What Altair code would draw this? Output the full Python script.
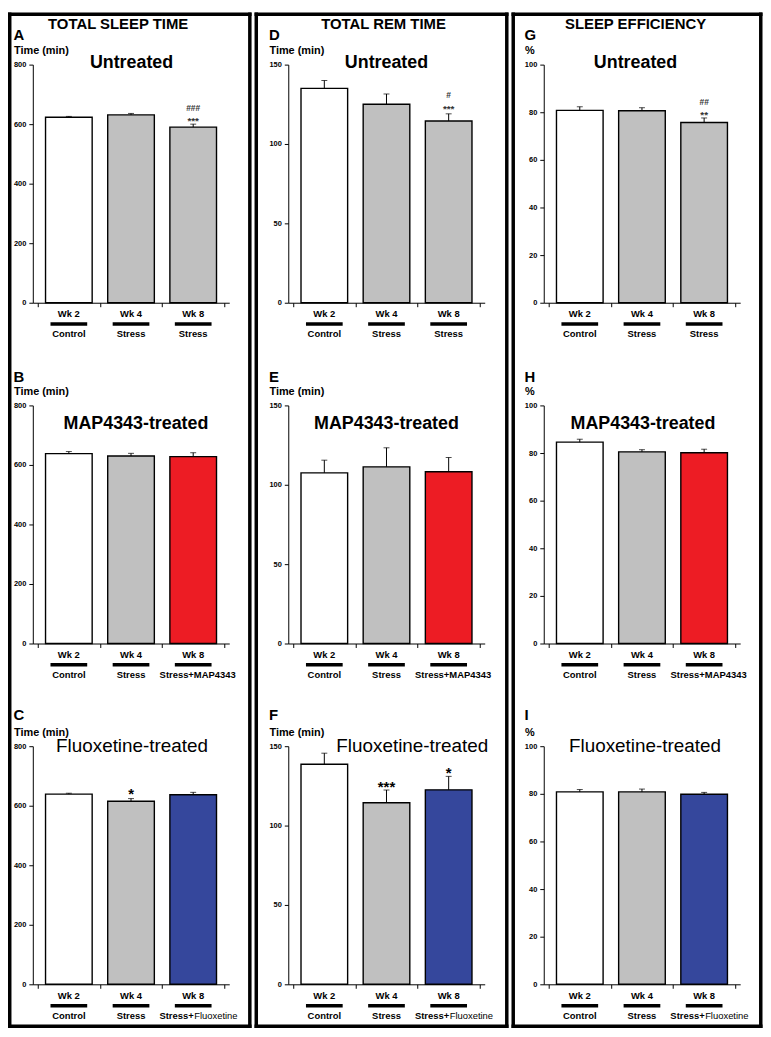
import altair as alt
import pandas as pd

FONT = "Liberation Sans"

# ---------------- data ----------------
weeks = ["Wk 2", "Wk 4", "Wk 8"]
groups_untreated = ["Control", "Stress", "Stress"]
groups_map = ["Control", "Stress", "Stress+MAP4343"]
groups_flx = ["Control", "Stress", "Stress+Fluoxetine"]

fills_untreated = ["#ffffff", "#c0c0c0", "#c0c0c0"]
fills_map = ["#ffffff", "#c0c0c0", "#ed1c24"]
fills_flx = ["#ffffff", "#c0c0c0", "#35479c"]

column_titles = ["TOTAL SLEEP TIME", "TOTAL REM TIME", "SLEEP EFFICIENCY"]
row_titles = ["Untreated", "MAP4343-treated", "Fluoxetine-treated"]
panel_letters = [["A", "D", "G"], ["B", "E", "H"], ["C", "F", "I"]]
y_titles = ["Time (min)", "Time (min)", "%"]
y_max = [800, 150, 100]
y_step = [200, 50, 20]

# Total sleep time (min)
tst_untreated = [623, 631, 590]
tst_untreated_err = [3, 5, 10]
tst_map = [638, 630, 628]
tst_map_err = [7, 9, 13]
tst_flx = [639, 615, 637]
tst_flx_err = [3, 9, 8]

# Total REM time (min)
rem_untreated = [135, 125, 114.5]
rem_untreated_err = [5, 6.5, 4.5]
rem_map = [107.5, 111.3, 108.2]
rem_map_err = [8, 12, 9]
rem_flx = [138.6, 114.4, 122.5]
rem_flx_err = [7, 8, 8.5]

# Sleep efficiency (%)
se_untreated = [80.8, 80.6, 75.7]
se_untreated_err = [1.5, 1.3, 1.9]
se_map = [84.6, 80.5, 80.1]
se_map_err = [1.2, 0.9, 1.5]
se_flx = [80.8, 80.8, 79.8]
se_flx_err = [1.0, 1.2, 0.8]

# significance marks
stars_A = ["", "", "***"]
hashes_A = ["", "", "###"]
stars_D = ["", "", "***"]
hashes_D = ["", "", "#"]
stars_G = ["", "", "**"]
hashes_G = ["", "", "##"]
stars_C = ["", "*", ""]
stars_F = ["", "***", "*"]
no_marks = ["", "", ""]

VALUES = [[tst_untreated, rem_untreated, se_untreated],
          [tst_map, rem_map, se_map],
          [tst_flx, rem_flx, se_flx]]
ERRS = [[tst_untreated_err, rem_untreated_err, se_untreated_err],
        [tst_map_err, rem_map_err, se_map_err],
        [tst_flx_err, rem_flx_err, se_flx_err]]
STARS = [[stars_A, stars_D, stars_G],
         [no_marks, no_marks, no_marks],
         [stars_C, stars_F, no_marks]]
HASHES = [[hashes_A, hashes_D, hashes_G],
          [no_marks, no_marks, no_marks],
          [no_marks, no_marks, no_marks]]
GROUPS = [groups_untreated, groups_map, groups_flx]
FILLS = [fills_untreated, fills_map, fills_flx]

# ---------------- layout / style ----------------
W, H = 198, 240
TITLE_X = [[99.5, 99, 92.5], [104, 99, 100], [100, 125, 102]]
TITLE_Y = [3.5, 23.5, 6]
TITLE_WEIGHT = ["bold", "bold", "normal"]
TITLE_SIZE = [18, 18, 19]
LETTER_Y = [-25, -23.5, -26.5]
COLTITLE_X = [86, 96, 92.5]
BOX_LR = [(-25, 220.5), (-34, 222), (-32.5, 220.5)]
BOX_TB = (-52.5, 971)
BOX_T = 3.5
STAR_STYLE = [  # (size, color, dy per column)
    (10, "#333333", [0, -2, 0]),
    (10, "#333333", [0, 0, 0]),
    (15, "#000000", [0, 2, 0]),
]
HASH_DY = [-13, -16, -13]


def text_layer(txt, x, y, size, weight="bold", align="left", color="black"):
    return alt.Chart(pd.DataFrame({"t": [txt]})).mark_text(
        font=FONT, fontSize=size, fontWeight=weight, align=align,
        baseline="alphabetic", color=color
    ).encode(text="t:N", x=alt.value(x), y=alt.value(y))


def box_edge(x1, x2, y1, y2):
    return alt.Chart(pd.DataFrame({"b": [0]})).mark_rect(color="black").encode(
        x=alt.value(x1), x2=alt.value(x2), y=alt.value(y1), y2=alt.value(y2))


def make_panel(r, c):
    df = pd.DataFrame({
        "week": weeks,
        "group": GROUPS[r],
        "value": VALUES[r][c],
        "err": ERRS[r][c],
        "fill": FILLS[r],
        "star": STARS[r][c],
        "hash": HASHES[r][c],
        "idx": list(range(len(weeks))),
    })
    base = alt.Chart(df).transform_calculate(
        pos="datum.idx + 0.5", top="datum.value + datum.err"
    )
    xenc = alt.X("pos:Q", scale=alt.Scale(domain=[0, 3], nice=False, zero=False),
                 axis=alt.Axis(values=[0, 1, 2, 3], labels=False, title=None, grid=False,
                               tickSize=4, tickColor="black", domainColor="black",
                               tickWidth=1, domainWidth=1))
    yenc = alt.Y("value:Q", scale=alt.Scale(domain=[0, y_max[c]], nice=False),
                 axis=alt.Axis(values=list(range(0, y_max[c] + 1, y_step[c])), title=None,
                               grid=False, tickSize=4, tickColor="black", domainColor="black",
                               tickWidth=1, domainWidth=1, labelFont=FONT,
                               labelFontWeight="bold", labelFontSize=7.5,
                               labelColor="black", labelPadding=3))
    bars = base.mark_bar(width=47, stroke="black", strokeWidth=1.4).encode(
        x=xenc, y=yenc, fill=alt.Fill("fill:N", scale=None))
    err = base.mark_rule(color="black", strokeWidth=1).encode(
        x="pos:Q", y="value:Q", y2="top:Q")
    cap = base.mark_tick(orient="horizontal", size=6, thickness=1, color="black").encode(
        x="pos:Q", y="top:Q")
    ssize, scolor, sdy = STAR_STYLE[r]
    stars = base.transform_filter("datum.star != ''").mark_text(
        font=FONT, fontSize=ssize, fontWeight="bold", color=scolor,
        baseline="alphabetic", dy=sdy[c]
    ).encode(x="pos:Q", y="top:Q", text="star:N")
    hashes = base.transform_filter("datum.hash != ''").mark_text(
        font=FONT, fontSize=8.5, fontWeight="bold", color="#333333",
        baseline="alphabetic", dy=HASH_DY[c]
    ).encode(x="pos:Q", y="top:Q", text="hash:N")

    wk = base.mark_text(font=FONT, fontSize=9.5, fontWeight="bold",
                        baseline="alphabetic").encode(
        x="pos:Q", y=alt.value(H + 14.5), text="week:N")
    underline = base.mark_bar(width=37, color="black").encode(
        x="pos:Q", y=alt.value(H + 19.75), y2=alt.value(H + 23.25))
    grp_simple = base.transform_filter("indexof(datum.group, '+') < 0").mark_text(
        font=FONT, fontSize=9.5, fontWeight="bold", baseline="alphabetic"
    ).encode(x="pos:Q", y=alt.value(H + 34.5), text="group:N")
    layers = [bars, err, cap, stars, hashes, wk, underline, grp_simple]
    if r == 1:
        layers.append(base.transform_filter("indexof(datum.group, '+') >= 0").mark_text(
            font=FONT, fontSize=9.5, fontWeight="bold", baseline="alphabetic", dx=4.5
        ).encode(x="pos:Q", y=alt.value(H + 34.5), text="group:N"))
    if r == 2:
        plus = base.transform_filter("indexof(datum.group, '+') >= 0").transform_calculate(
            gb="split(datum.group, '+')[0] + '+'", gr="split(datum.group, '+')[1]")
        layers.append(plus.mark_text(font=FONT, fontSize=9.5, fontWeight="bold",
                                     baseline="alphabetic", align="right", dx=0.5
                                     ).encode(x="pos:Q", y=alt.value(H + 34.5), text="gb:N"))
        layers.append(plus.mark_text(font=FONT, fontSize=9.5, fontWeight="normal",
                                     baseline="alphabetic", align="left", dx=1
                                     ).encode(x="pos:Q", y=alt.value(H + 34.5), text="gr:N"))

    layers.append(text_layer(panel_letters[r][c], -19.5, LETTER_Y[r], 15))
    layers.append(text_layer(y_titles[c], -19, -10.5, 11))
    layers.append(text_layer(row_titles[r], TITLE_X[r][c], TITLE_Y[r], TITLE_SIZE[r],
                             weight=TITLE_WEIGHT[r], align="center"))
    if r == 0:
        layers.append(text_layer(column_titles[c], COLTITLE_X[c], -36, 15, align="center"))
        L, R = BOX_LR[c]
        T, B = BOX_TB
        layers += [
            box_edge(L, L + BOX_T, T, B),
            box_edge(R - BOX_T, R, T, B),
            box_edge(L, R, T, T + BOX_T),
            box_edge(L, R, B - BOX_T, B),
        ]
    return alt.layer(*layers).properties(width=W, height=H)


panels = [make_panel(r, c) for r in range(3) for c in range(3)]

chart = alt.concat(
    *panels, columns=3, spacing={"row": 103.5, "column": 59.5}, bounds="flush"
).properties(
    padding={"left": 0, "top": 0, "right": 0, "bottom": 0}
).configure_view(stroke=None)

chart.save("out.html", embed_options={"renderer": "svg", "actions": False})
